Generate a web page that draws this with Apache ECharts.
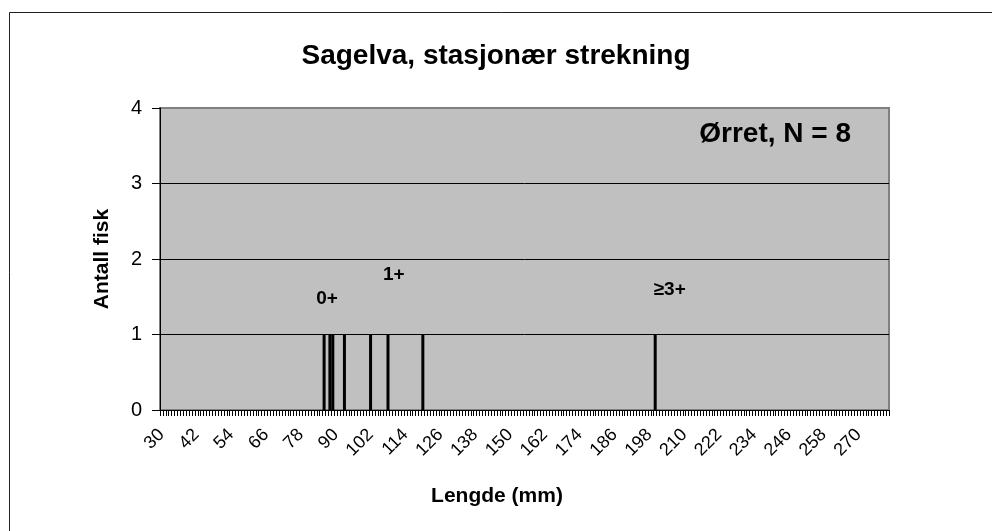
<!DOCTYPE html>
<html>
<head>
<meta charset="utf-8">
<style>
html,body{margin:0;padding:0;background:#fff;}
#c{width:992px;height:531px;}
</style>
<script src="https://cdn.jsdelivr.net/npm/echarts@6/dist/echarts.min.js"></script>
</head>
<body>
<div id="c"></div>
<script>
// Length range (mm) of category axis
var minLength = 30;
var maxLength = 280;
// Individual fish lengths (mm)
var fishLengths = [86, 88, 89, 93, 102, 108, 120, 200];
// Age-group annotations: label, length position, height
var ageLabels = ['0+', '1+', '\u22653+'];
var ageLabelX = ['87', '110', '205'];
var ageLabelY = [1.47, 1.79, 1.59];
var yTicks = [0, 1, 2, 3, 4];

var categories = [];
for (var v = minLength; v <= maxLength; v++) categories.push(String(v));
var counts = categories.map(function (c) {
  return fishLengths.filter(function (l) { return String(l) === c; }).length;
});

var FONT = '"Liberation Sans", Arial, sans-serif';
var chart = echarts.init(document.getElementById('c'), null, {renderer: 'canvas'});
chart.setOption({
  backgroundColor: '#ffffff',
  animation: false,
  title: {
    text: 'Sagelva, stasjonær strekning',
    left: 'center',
    top: 37,
    textStyle: {fontFamily: FONT, fontSize: 28, fontWeight: 'bold', color: '#000'}
  },
  graphic: [
    {type: 'rect', left: 7, top: 10, shape: {width: 1000, height: 600},
     style: {fill: 'none', stroke: '#222', lineWidth: 1}, silent: true, z: -10},
    {type: 'text', right: 141, top: 120,
     style: {text: 'Ørret, N = 8', font: 'bold 28px ' + FONT, fill: '#000'}}
  ],
  grid: {
    left: 160, right: 103, top: 108, bottom: 121,
    show: true, backgroundColor: '#c0c0c0', borderColor: '#808080', borderWidth: 2
  },
  xAxis: {
    type: 'category',
    data: categories,
    name: 'Lengde (mm)',
    nameLocation: 'middle',
    nameGap: 76,
    nameTextStyle: {fontFamily: FONT, fontSize: 21, fontWeight: 'bold', color: '#000', padding: [0, 55, 0, 0]},
    axisLine: {show: true, lineStyle: {color: '#000', width: 1}},
    axisTick: {show: true, interval: 0, length: 6, lineStyle: {color: '#000'}},
    axisLabel: {interval: 11, rotate: 45, fontFamily: FONT, fontSize: 18, color: '#000', margin: 22},
    splitLine: {show: false}
  },
  yAxis: {
    type: 'value',
    min: 0, max: 4, interval: 1,
    name: 'Antall fisk',
    nameLocation: 'middle',
    nameGap: 47,
    nameTextStyle: {fontFamily: FONT, fontSize: 21, fontWeight: 'bold', color: '#000'},
    axisLine: {show: true, lineStyle: {color: '#000', width: 1}},
    axisTick: {show: true, length: 8, inside: false, lineStyle: {color: '#000'}},
    axisLabel: {fontFamily: FONT, fontSize: 20, color: '#000', margin: 18,
      formatter: function (val) { return yTicks.indexOf(val) >= 0 ? String(val) : ''; }},
    splitLine: {show: true, lineStyle: {color: ['#000', '#000', '#000', '#000', '#808080'], width: 1}}
  },
  series: [{
    type: 'bar',
    data: counts,
    barWidth: 3,
    itemStyle: {color: '#000'},
    markPoint: {
      symbol: 'circle',
      symbolSize: 1,
      itemStyle: {color: 'rgba(0,0,0,0)'},
      label: {show: true, position: 'inside', fontFamily: FONT, fontSize: 19, fontWeight: 'bold', color: '#000',
        formatter: function (p) { return p.name; }},
      data: ageLabels.map(function (t, i) {
        return {name: t, coord: [ageLabelX[i], ageLabelY[i]]};
      })
    }
  }]
});
</script>
</body>
</html>
